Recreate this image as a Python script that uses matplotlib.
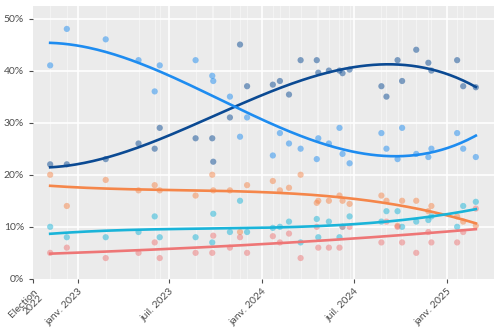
import matplotlib.pyplot as plt
import matplotlib.dates as mdates
import numpy as np
import pandas as pd

# poll dates
dates = pd.to_datetime([
    "2022-11-07", "2022-12-10", "2023-02-25", "2023-05-01", "2023-06-02",
    "2023-06-12", "2023-08-22", "2023-09-24", "2023-09-26", "2023-10-29",
    "2023-11-18", "2023-12-02", "2024-01-22", "2024-02-05", "2024-02-23",
    "2024-03-17", "2024-04-18", "2024-04-21", "2024-05-12", "2024-06-02",
    "2024-06-08", "2024-06-22", "2024-08-24", "2024-09-03", "2024-09-25",
    "2024-10-04", "2024-11-01", "2024-11-25", "2024-12-01", "2025-01-21",
    "2025-02-02", "2025-02-27",
])

dark_blue = [22, 22, 23, 26, 25, 29, 27, 27, 22.5, 31, 45, 37, 37.3, 38, 35.4,
             42, 42, 39.6, 40, 40, 39.5, 40.2, 37, 35, 42, 38, 44, 41.5, 40, 42,
             37, 36.8]
light_blue = [41, 48, 46, 42, 36, 41, 42, 39, 38, 35, 27.3, 31, 23.7, 28, 26,
              25, 23, 27, 26, 29, 24, 22.2, 28, 25, 23, 29, 24, 23.4, 25, 28,
              25, 23.4]
orange = [20, 14, 19, 17, 18, 17, 16, 20, 17, 17, 9, 18, 18.8, 17, 17.5,
          20, 14.6, 15, 15, 16, 15, 14.4, 16, 15, 10.2, 15, 15, 13, 14, 12,
          11, 10.2]
cyan = [10, 8, 8, 9, 12, 8, 8, 7, 12.5, 9, 15, 9, 9.8, 10, 11,
        7, 11.5, 8, 11, 8, 10, 12, 11, 13, 13, 10, 11, 11.3, 12, 10,
        14, 14.8]
pink = [5, 6, 4, 5, 7, 4, 5, 5, 8.3, 6, 8, 5, 8.2, 7, 8.7,
        4, 10, 6, 6, 6, 10, 10, 7, 11, 10, 7, 5, 9, 7, 7,
        9, 13.5]

tick_dates = pd.to_datetime(["2022-10-04", "2023-01-01", "2023-07-01",
                             "2024-01-01", "2024-07-01", "2025-01-01"])
tick_labels = ["Election\n2022", "janv. 2023", "juil. 2023", "janv. 2024",
               "juil. 2024", "janv. 2025"]

series = [
    (dark_blue, "#0B4A93"),
    (light_blue, "#1E8CF0"),
    (orange, "#F5864A"),
    (cyan, "#1AB4D9"),
    (pink, "#EE7676"),
]

plt.rcParams['font.family'] = ['Lato', 'DejaVu Sans']

fig = plt.figure(figsize=(5, 3.34), dpi=100)
ax = fig.add_axes([0.066, 0.165, 0.922, 0.817])
ax.set_facecolor("#EBEBEB")

xnum = mdates.date2num(dates)

# grid
for d in np.unique(xnum):
    ax.axvline(d, color="white", lw=0.5, alpha=0.6, zorder=0)
for d in mdates.date2num(tick_dates[1:]):
    ax.axvline(d, color="white", lw=1.2, zorder=0)
for v in range(10, 60, 10):
    ax.axhline(v, color="white", lw=1.2, zorder=0)

# smooth trend: cubic fit on scaled time
x0, x1 = xnum.min(), xnum.max()
t = (xnum - x0) / (x1 - x0)
xs = np.linspace(x0, x1, 200)
ts = (xs - x0) / (x1 - x0)
for vals, col in series:
    ax.scatter(xnum, vals, s=20, color=col, alpha=0.5, edgecolors="none", zorder=2)
for vals, col in series:
    coef = np.polyfit(t, vals, 3)
    ax.plot(xs, np.polyval(coef, ts), color=col, lw=1.9, zorder=3)

ax.set_xlim(mdates.date2num(pd.Timestamp("2022-10-04")),
            mdates.date2num(pd.Timestamp("2025-04-04")))
ax.set_ylim(0, 52.4)
ax.set_yticks(range(0, 60, 10))
ax.set_yticklabels([f"{v}%" for v in range(0, 60, 10)])
ax.set_xticks(mdates.date2num(tick_dates))
ax.set_xticklabels(tick_labels, rotation=45, ha="right", rotation_mode="anchor",
                   linespacing=0.9)
ax.tick_params(colors="#4D4D4D", labelsize=7.5, length=3, width=0.8)
ax.tick_params(axis="x", pad=3)
for s in ax.spines.values():
    s.set_visible(False)

fig.savefig("out.png", dpi=100)
